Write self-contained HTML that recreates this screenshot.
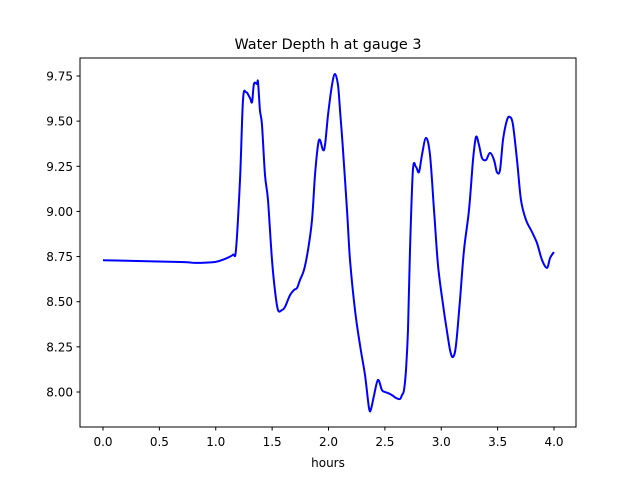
<!DOCTYPE html>
<html><head><meta charset="utf-8"><style>
html,body{margin:0;padding:0;background:#fff;}
svg{display:block;font-family:"DejaVu Sans","Liberation Sans",sans-serif;}
</style></head><body>
<svg id="chart" width="640" height="480" viewBox="0 0 640 480">
<rect width="640" height="480" fill="#fff"/>
<text x="328" y="49" font-size="14.4" text-anchor="middle" fill="#000">Water Depth h at gauge 3</text>
<g id="plot"></g>
<rect x="80" y="58" width="496" height="369" fill="none" stroke="#000" stroke-width="1"/>
<text x="328" y="467" font-size="12" text-anchor="middle" fill="#000">hours</text>
</svg>
<script>
const hours=[0,0.683,0.816,0.993,1.082,1.153,1.180,1.215,1.242,1.268,1.304,1.322,1.339,1.366,1.375,1.392,1.410,1.437,1.463,1.499,1.525,1.552,1.588,1.614,1.659,1.694,1.721,1.747,1.783,1.818,1.854,1.880,1.907,1.925,1.951,1.969,1.996,2.031,2.058,2.084,2.102,2.129,2.164,2.191,2.235,2.279,2.324,2.359,2.377,2.404,2.439,2.474,2.501,2.528,2.563,2.599,2.634,2.652,2.670,2.687,2.705,2.723,2.749,2.776,2.803,2.829,2.865,2.900,2.936,2.971,3.016,3.042,3.078,3.104,3.131,3.166,3.202,3.246,3.282,3.308,3.335,3.361,3.397,3.432,3.468,3.494,3.521,3.548,3.583,3.610,3.636,3.672,3.707,3.752,3.805,3.849,3.894,3.938,3.965,4.0];
const depth=[8.73,8.72,8.715,8.72,8.737,8.76,8.79,9.174,9.617,9.661,9.628,9.606,9.706,9.706,9.717,9.562,9.479,9.202,9.063,8.731,8.565,8.454,8.454,8.471,8.537,8.565,8.576,8.620,8.676,8.786,8.953,9.202,9.368,9.396,9.340,9.368,9.534,9.700,9.761,9.700,9.562,9.340,9.008,8.731,8.454,8.260,8.094,7.911,7.906,7.983,8.067,8.011,8.000,7.994,7.983,7.967,7.961,7.983,8.011,8.122,8.343,8.786,9.229,9.246,9.218,9.313,9.407,9.313,9.008,8.703,8.482,8.371,8.233,8.194,8.260,8.509,8.786,9.008,9.285,9.412,9.368,9.296,9.285,9.324,9.285,9.218,9.229,9.396,9.506,9.523,9.479,9.285,9.063,8.953,8.886,8.825,8.731,8.687,8.742,8.775];
const xTicks=[0,0.5,1,1.5,2,2.5,3,3.5,4];
const xTickLabels=["0.0","0.5","1.0","1.5","2.0","2.5","3.0","3.5","4.0"];
const yTicks=[8,8.25,8.5,8.75,9,9.25,9.5,9.75];
const yTickLabels=["8.00","8.25","8.50","8.75","9.00","9.25","9.50","9.75"];
const NS="http://www.w3.org/2000/svg";
const g=document.getElementById('plot');
function xs(v){return 103+v*112.75;}
function ys(v){return 76+(9.75-v)*180.57;}
xTicks.forEach((t,i)=>{
 const l=document.createElementNS(NS,'line');
 
 
 l.setAttribute('x1',xs(t));l.setAttribute('x2',xs(t));l.setAttribute('y1',427);l.setAttribute('y2',430.5);l.setAttribute('stroke','#000');
 g.appendChild(l);
 const tx=document.createElementNS(NS,'text');
 
 
 tx.setAttribute('x',xs(t));tx.setAttribute('y',446);tx.setAttribute('font-size','12');tx.setAttribute('text-anchor','middle');
 tx.textContent=xTickLabels[i];g.appendChild(tx);
});
yTicks.forEach((t,i)=>{
 const l=document.createElementNS(NS,'line');
 
 
 l.setAttribute('x1',76.5);l.setAttribute('x2',80);l.setAttribute('y1',ys(t));l.setAttribute('y2',ys(t));l.setAttribute('stroke','#000');
 g.appendChild(l);
 const tx=document.createElementNS(NS,'text');
 
 
 tx.setAttribute('x',73);tx.setAttribute('y',ys(t)+4.5);tx.setAttribute('font-size','12');tx.setAttribute('text-anchor','end');
 tx.textContent=yTickLabels[i];g.appendChild(tx);
});
const pts=hours.map((h,i)=>[xs(h),ys(depth[i])]);
let d='M'+pts[0][0].toFixed(1)+','+pts[0][1].toFixed(1);
for(let i=0;i<pts.length-1;i++){
 const p0=pts[Math.max(0,i-1)],p1=pts[i],p2=pts[i+1],p3=pts[Math.min(pts.length-1,i+2)];
 const c1x=p1[0]+(p2[0]-p0[0])/6,c1y=p1[1]+(p2[1]-p0[1])/6;
 const c2x=p2[0]-(p3[0]-p1[0])/6,c2y=p2[1]-(p3[1]-p1[1])/6;
 d+=' C'+c1x.toFixed(1)+','+c1y.toFixed(1)+' '+c2x.toFixed(1)+','+c2y.toFixed(1)+' '+p2[0].toFixed(1)+','+p2[1].toFixed(1);
}
const p=document.createElementNS(NS,'path');


p.setAttribute('d',d);
p.setAttribute('fill','none');p.setAttribute('stroke','#0000ff');p.setAttribute('stroke-width','2');p.setAttribute('stroke-linejoin','round');
g.appendChild(p);
</script>
</body></html>
